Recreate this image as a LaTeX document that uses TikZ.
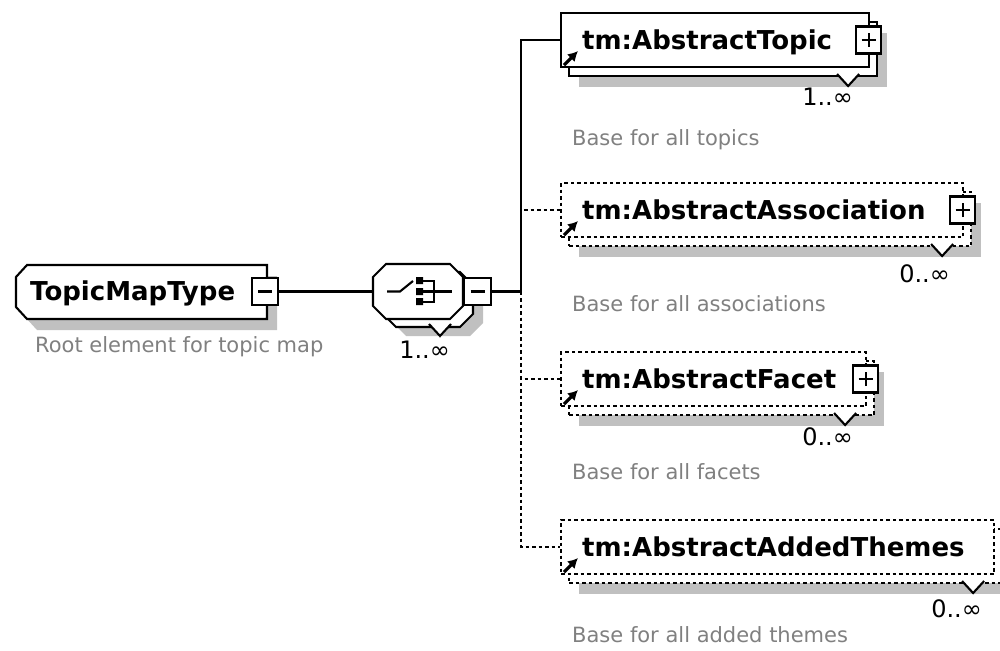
\documentclass[tikz,border=0pt]{standalone}
\usepackage{fontspec}
\setmainfont{DejaVu Sans}
\usetikzlibrary{calc,shadows,arrows.meta}
\definecolor{shadowgray}{RGB}{192,192,192}
\definecolor{note}{RGB}{128,128,128}
\tikzset{
  outline/.style={line width=2.1pt, line join=miter},
  dotline/.style={dash pattern=on 3.5pt off 3pt},
  % element frame: gray drop shadow, a second frame behind (repeating), front frame
  xsdbox/.style={rectangle, inner sep=0pt, minimum height=54pt, anchor=west,
    general shadow={fill=shadowgray, draw=none, shadow xshift=18pt, shadow yshift=-20pt},
    general shadow={fill=white, draw=black, outline, #1, shadow xshift=8pt, shadow yshift=-9pt},
    draw, fill=white, outline, #1},
  xsdbox/.default=solid,
  toggle/.style={rectangle, draw, fill=white, outline, solid, inner sep=0pt,
    minimum width=25pt, minimum height=27pt},
  wire/.style={line width=2.1pt},
  tagtext/.style={font=\fontsize{26}{30}\selectfont\bfseries, inner sep=0pt, anchor=base west},
  doc/.style={font=\fontsize{21}{25}\selectfont, text=note, inner sep=0pt, anchor=base west},
  card/.style={font=\fontsize{24}{28}\selectfont, inner sep=0pt, anchor=base east},
  refarrow/.style={line width=3.2pt, -{Latex[length=10pt,width=11pt]}},
}
\begin{document}
\begin{tikzpicture}[x=1pt,y=-1pt]
\useasboundingbox (0,0) rectangle (1000,650);

% ---- root element TopicMapType (left corners cut) ----
\fill[shadowgray] (37,276) -- (277,276) -- (277,330) -- (37,330) -- (26,318) -- (26,288) -- cycle;
\draw[outline, fill=white] (27,265) -- (267,265) -- (267,319) -- (27,319) -- (16,307) -- (16,277) -- cycle;
\node[tagtext] (root) at (30,300) {TopicMapType};
\node[toggle, minimum width=26pt] (rootsw) at (265,291.5) {};
\draw[wire] ([xshift=-7pt]rootsw.center) -- ([xshift=7pt]rootsw.center);
\node[doc] (rootdoc) at (35,352) {Root element for topic map};

% ---- sequence compositor, repeating ----
\fill[shadowgray] (406,281) -- (470,281) -- (483,294) -- (483,323) -- (470,336) -- (406,336) -- (393,323) -- (393,294) -- cycle;
\draw[outline, fill=white] (396,272) -- (460,272) -- (473,285) -- (473,314) -- (460,327) -- (396,327) -- (383,314) -- (383,285) -- cycle;
\draw[outline, fill=white] (386,264) -- (450,264) -- (463,277) -- (463,306) -- (450,319) -- (386,319) -- (373,306) -- (373,277) -- cycle;
\node[inner sep=0pt, minimum width=90pt, minimum height=55pt] (seq) at (418,291.5) {};
\draw[wire] (387,291.5) -- (400,291.5) -- (413,281);
\fill (416,277) rectangle (423,284) (416,288) rectangle (423,295) (416,298) rectangle (423,305);
\draw[wire] (423,281) -- (434,281) -- (434,302) -- (423,302) (423,291.5) -- (452,291.5);
\node[toggle, minimum width=27pt] (seqsw) at (477.5,291.5) {};
\draw[wire] ([xshift=-7pt]seqsw.center) -- ([xshift=7pt]seqsw.center);
\draw[outline, fill=white] (429,324) -- (440,336) -- (451,324);
\node[card] (seqcard) at (450,358) {1..∞};

% ---- tm:AbstractTopic ----
\node[xsdbox, minimum width=308pt] (topic) at (560,40) {};
\node[toggle] (topicsw) at ($(topic.east)+(-1.5,0)$) {};
\draw[wire] ([xshift=-7pt]topicsw.center) -- ([xshift=7pt]topicsw.center)
            ([yshift=-7pt]topicsw.center) -- ([yshift=7pt]topicsw.center);
\node[tagtext] (topictag) at (582,49.5) {tm:AbstractTopic};
\draw[refarrow] ($(topic.south west)+(4,-3)$) -- ++(14,-14);
\draw[outline, fill=white] ($(topic.south east)+(-33,6)$) -- ++(11,12) -- ++(11,-12);
\node[card] (topiccard) at (853,106) {1..∞};
\node[doc] (topicdoc) at (572,145) {Base for all topics};

% ---- tm:AbstractAssociation ----
\node[xsdbox=dotline, minimum width=402pt] (assoc) at (560,210) {};
\node[toggle] (assocsw) at ($(assoc.east)+(-1.5,0)$) {};
\draw[wire] ([xshift=-7pt]assocsw.center) -- ([xshift=7pt]assocsw.center)
            ([yshift=-7pt]assocsw.center) -- ([yshift=7pt]assocsw.center);
\node[tagtext] (assoctag) at (582,219.5) {tm:AbstractAssociation};
\draw[refarrow] ($(assoc.south west)+(4,-3)$) -- ++(14,-14);
\draw[outline, fill=white] ($(assoc.south east)+(-33,6)$) -- ++(11,12) -- ++(11,-12);
\node[card] (assoccard) at (950,282) {0..∞};
\node[doc] (assocdoc) at (572,311) {Base for all associations};

% ---- tm:AbstractFacet ----
\node[xsdbox=dotline, minimum width=305pt] (facet) at (560,379) {};
\node[toggle] (facetsw) at ($(facet.east)+(-1.5,0)$) {};
\draw[wire] ([xshift=-7pt]facetsw.center) -- ([xshift=7pt]facetsw.center)
            ([yshift=-7pt]facetsw.center) -- ([yshift=7pt]facetsw.center);
\node[tagtext] (facettag) at (582,388.5) {tm:AbstractFacet};
\draw[refarrow] ($(facet.south west)+(4,-3)$) -- ++(14,-14);
\draw[outline, fill=white] ($(facet.south east)+(-33,6)$) -- ++(11,12) -- ++(11,-12);
\node[card] (facetcard) at (853,445) {0..∞};
\node[doc] (facetdoc) at (572,479) {Base for all facets};

% ---- tm:AbstractAddedThemes ----
\node[xsdbox=dotline, minimum width=433pt] (themes) at (560,547) {};
\node[tagtext] (themestag) at (582,556.5) {tm:AbstractAddedThemes};
\draw[refarrow] ($(themes.south west)+(4,-3)$) -- ++(14,-14);
\draw[outline, fill=white] ($(themes.south east)+(-33,6)$) -- ++(11,12) -- ++(11,-12);
\node[card] (themescard) at (982,617) {0..∞};
\node[doc] (themesdoc) at (572,642) {Base for all added themes};

% ---- connectors ----
\coordinate (fork) at (521,291.5);
\draw[wire] (rootsw.east) -- (seq.west);
\draw[wire] (seqsw.east) -- (fork);
\draw[wire] (fork) |- (topic.west);
\draw[wire, dotline] (fork) |- (assoc.west);
\draw[wire, dotline] (fork) |- (facet.west);
\draw[wire, dotline] (fork) |- (themes.west);
\end{tikzpicture}
\end{document}
